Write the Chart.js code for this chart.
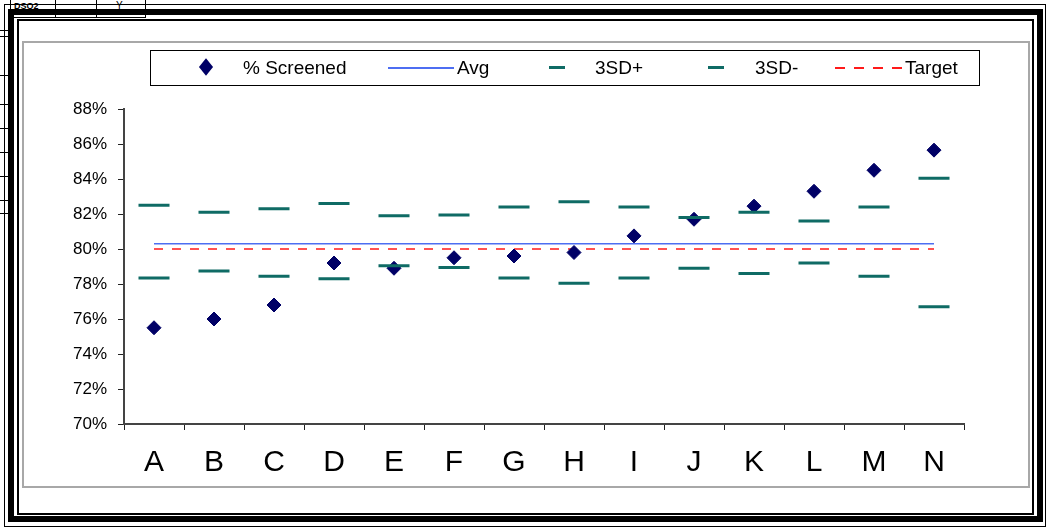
<!DOCTYPE html>
<html>
<head>
<meta charset="utf-8">
<script src="https://cdn.jsdelivr.net/npm/chart.js@4/dist/chart.umd.min.js"></script>
<style>
  html, body { margin: 0; padding: 0; background: #fff; }
  body { width: 1046px; height: 530px; position: relative; overflow: hidden; font-family: "Liberation Sans", Arial, sans-serif; }
  .abs { position: absolute; box-sizing: border-box; }
  #chartCanvas { position: absolute; left: 0; top: 0; z-index: 5; }
</style>
</head>
<body>
<!-- spreadsheet artefacts top-left -->
<div class="abs" style="left:10px;top:0;width:136px;height:18px;border:1px solid #000;border-top:none;"></div>
<div class="abs" style="left:55px;top:0;width:1px;height:18px;background:#000;"></div>
<div class="abs" style="left:96px;top:0;width:1px;height:18px;background:#000;"></div>
<div class="abs" style="left:14px;top:1px;font-size:9px;font-weight:bold;color:#000;">DSO2</div>
<div class="abs" style="left:116px;top:0px;font-size:10px;color:#000;">Y</div>
<div class="abs" style="left:0;top:30px;width:10px;height:1px;background:#000;"></div>
<div class="abs" style="left:0;top:36px;width:10px;height:1px;background:#000;"></div>
<div class="abs" style="left:0;top:75px;width:10px;height:1px;background:#000;"></div>
<div class="abs" style="left:0;top:104px;width:10px;height:1px;background:#000;"></div>
<div class="abs" style="left:0;top:128px;width:10px;height:1px;background:#000;"></div>
<div class="abs" style="left:0;top:152px;width:10px;height:1px;background:#000;"></div>
<div class="abs" style="left:0;top:176px;width:10px;height:1px;background:#000;"></div>
<div class="abs" style="left:0;top:200px;width:10px;height:1px;background:#000;"></div>
<div class="abs" style="left:0;top:213px;width:10px;height:1px;background:#000;"></div>

<!-- frame -->
<div class="abs" style="left:4px;top:4px;width:1042px;height:523px;border:1px solid #000;"></div>
<div class="abs" style="left:8px;top:9px;width:1035px;height:513px;border:6px solid #000;"></div>
<div class="abs" style="left:17px;top:19px;width:1017px;height:496px;border:2px solid #000;"></div>
<div class="abs" style="left:22px;top:41px;width:1008px;height:447px;border:2px solid #a8a8a8;"></div>

<!-- legend box -->
<div class="abs" style="left:150px;top:50px;width:830px;height:36px;border:1.5px solid #000;z-index:6;"></div>
<div id="legend"></div>

<canvas id="chartCanvas" width="1046" height="530"></canvas>

<script>
// ---- data ----
const categories = ["A","B","C","D","E","F","G","H","I","J","K","L","M","N"];
const pctScreened = [75.5, 76.0, 76.8, 79.2, 78.9, 79.5, 79.6, 79.8, 80.75, 81.7, 82.45, 83.3, 84.5, 85.65];
const sdPlus  = [82.5, 82.1, 82.3, 82.6, 81.9, 81.95, 82.4, 82.7, 82.4, 81.8, 82.1, 81.6, 82.4, 84.05];
const sdMinus = [78.35, 78.75, 78.45, 78.3, 79.05, 78.95, 78.35, 78.05, 78.35, 78.9, 78.6, 79.2, 78.45, 76.7];
const avgValue = 80.3;
const targetValue = 80;
const avgSeries = categories.map(() => avgValue);
const targetSeries = categories.map(() => targetValue);
const yMin = 70, yMax = 88, yStep = 2;
const seriesNames = ["% Screened", "Avg", "3SD+", "3SD-", "Target"];

const NAVY = "#000066", BLUE = "#4d6ef2", TEAL = "#0f6b65", RED = "#ff1a1a";
const FONT = "'Liberation Sans', Arial, sans-serif";

// ---- legend (HTML) ----
const legend = document.getElementById('legend');
function addEl(style, html) {
  const d = document.createElement('div');
  d.className = 'abs';
  d.style.cssText = style + ';z-index:6;';
  if (html) d.innerHTML = html;
  legend.appendChild(d);
  return d;
}
const TXT = 'top:58px;font-size:19px;line-height:20px;white-space:nowrap;color:#000';
// % Screened
addEl('left:201px;top:62px;width:10px;height:10px;background:' + NAVY + ';transform:scaleY(1.25) rotate(45deg)');
addEl('left:243px;' + TXT, seriesNames[0]);
// Avg
addEl('left:388px;top:67px;width:66px;height:1.5px;background:' + BLUE);
addEl('left:457px;' + TXT, seriesNames[1]);
// 3SD+
addEl('left:549px;top:66px;width:16px;height:3px;background:' + TEAL);
addEl('left:595px;' + TXT, seriesNames[2]);
// 3SD-
addEl('left:708px;top:66px;width:16px;height:3px;background:' + TEAL);
addEl('left:755px;' + TXT, seriesNames[3]);
// Target
addEl('left:835px;top:67px;width:70px;height:2px;background:repeating-linear-gradient(to right,' + RED + ' 0 10px, transparent 10px 19px)');
addEl('left:905px;' + TXT, seriesNames[4]);

// ---- chart ----
const ctx = document.getElementById('chartCanvas').getContext('2d');
new Chart(ctx, {
  type: 'line',
  data: {
    labels: categories,
    datasets: [
      { label: seriesNames[1], data: avgSeries, borderColor: BLUE, borderWidth: 1.5, pointRadius: 0, fill: false, order: 4 },
      { label: seriesNames[4], data: targetSeries, borderColor: RED, borderWidth: 1.5, borderDash: [9, 9], pointRadius: 0, fill: false, order: 3 },
      { label: seriesNames[0], data: pctScreened, showLine: false, pointStyle: 'rectRot', pointRadius: 7, pointBorderWidth: 1,
        pointBackgroundColor: NAVY, pointBorderColor: NAVY, borderColor: NAVY, backgroundColor: NAVY, order: 2 },
      { label: seriesNames[2], data: sdPlus, showLine: false, pointStyle: 'line', pointRadius: 15.5, pointBorderWidth: 3,
        pointBorderColor: TEAL, borderColor: TEAL, backgroundColor: TEAL, order: 1 },
      { label: seriesNames[3], data: sdMinus, showLine: false, pointStyle: 'line', pointRadius: 15.5, pointBorderWidth: 3,
        pointBorderColor: TEAL, borderColor: TEAL, backgroundColor: TEAL, order: 1 }
    ]
  },
  options: {
    responsive: false,
    animation: false,
    events: [],
    layout: { padding: { left: 64, top: 109, right: 82, bottom: 46 } },
    plugins: { legend: { display: false }, tooltip: { enabled: false }, title: { display: false } },
    elements: { line: { tension: 0 } },
    scales: {
      x: {
        type: 'category',
        offset: true,
        afterFit: (s) => { s.height = 60; },
        grid: { offset: true, drawOnChartArea: false, drawTicks: true, tickLength: 6, color: '#222', lineWidth: 1 },
        border: { display: true, color: '#444', width: 2 },
        ticks: { color: '#000', font: { family: FONT, size: 30 }, padding: 15, maxRotation: 0, autoSkip: false }
      },
      y: {
        min: yMin, max: yMax,
        afterFit: (s) => { s.width = 60; },
        grid: { drawOnChartArea: false, drawTicks: true, tickLength: 6, color: '#222', lineWidth: 1 },
        border: { display: true, color: '#444', width: 2 },
        ticks: { stepSize: yStep, color: '#000', font: { family: FONT, size: 17 }, padding: 11, callback: (v) => v + '%' }
      }
    }
  }
});
</script>
</body>
</html>
